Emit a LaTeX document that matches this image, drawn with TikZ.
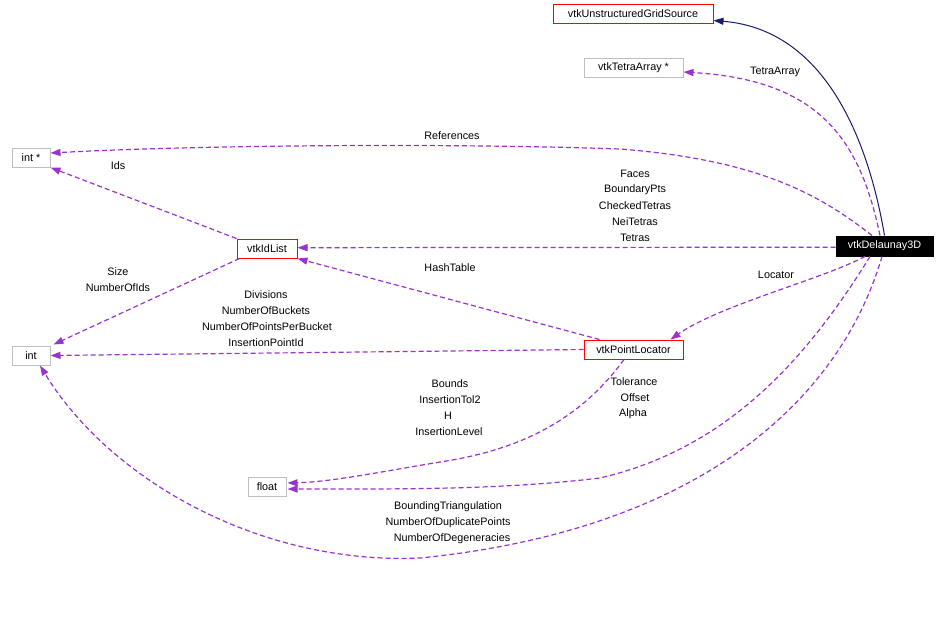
\documentclass[tikz,border=0pt]{standalone}
\usepackage{fontspec}
\setmainfont{Liberation Sans}
\usetikzlibrary{arrows.meta}
\definecolor{edgepurple}{HTML}{9A32CD}
\definecolor{navyedge}{HTML}{191970}
\definecolor{grayborder}{HTML}{BFBFBF}
\begin{document}
\begin{tikzpicture}[x=0.75pt,y=-0.75pt,
  font=\fontsize{8.1}{9.5}\selectfont,
  cls/.style={draw, line width=0.75pt, inner sep=0pt, minimum height=14.25pt, fill=white},
  redbox/.style={cls, draw=red},
  graybox/.style={cls, draw=grayborder},
  focusbox/.style={cls, draw=black, fill=black, text=white, minimum height=15pt},
  member/.style={draw=edgepurple, line width=0.9pt, dash pattern=on 3.75pt off 2.25pt,
    -{Triangle[length=7.5pt,width=5.25pt]}},
  inherit/.style={draw=navyedge, line width=0.75pt, -{Triangle[length=7.5pt,width=5.25pt]}},
  lbl/.style={inner sep=0pt, text=black}
]
\useasboundingbox (0,0) rectangle (946,629);

% nodes
\node[redbox, minimum width=120pt] (ugs) at (633,13.5) {vtkUnstructuredGridSource};
\node[graybox, minimum width=74.25pt] (tet) at (633.5,67.5) {vtkTetraArray *};
\node[graybox, minimum width=28.5pt] (intp) at (31,157.5) {int *};
\node[redbox, minimum width=45pt] (idl) at (267,248.5) {vtkIdList};
\node[focusbox, minimum width=72.75pt] (dl) at (884.5,246) {vtkDelaunay3D};
\node[graybox, minimum width=28.5pt] (int) at (31,355.5) {int};
\node[redbox, minimum width=74.25pt] (pl) at (633.5,349.5) {vtkPointLocator};
\node[graybox, minimum width=28.5pt] (fl) at (267,487) {float};

% inheritance
\draw[inherit] (dl.north) .. controls (870,150) and (830,30) .. ([shift={(0,7)}]ugs.east);

% members
\draw[member] ([shift={(-4.5,0)}]dl.north) .. controls (860,140) and (820,80) .. ([shift={(0,4.5)}]tet.east);
\draw[member] ([shift={(-12.5,0)}]dl.north) .. controls (820,195) and (760,160) .. (620,149)
   .. controls (450,143) and (200,145) .. ([shift={(0,-4.5)}]intp.east);
\draw[member] ([shift={(0,1.2)}]dl.west) -- ([shift={(0,-0.8)}]idl.east);
\draw[member] (idl.north west) -- (intp.south east);
\draw[member] ([shift={(3,0)}]idl.south west) -- ([shift={(3,-1)}]int.north east);
\draw[member] ([shift={(16,0)}]pl.north west) -- (idl.south east);
\draw[member] ([shift={(-19.5,0)}]dl.south) .. controls (820,280) and (720,305) .. ([shift={(-13,0)}]pl.north east);
\draw[member] (pl.west) -- (int.east);
\draw[member] ([shift={(-9.5,0)}]pl.south) .. controls (580,420) and (520,450) .. (440,462)
   .. controls (380,472) and (330,482) .. ([shift={(1,-4)}]fl.east);
\draw[member] ([shift={(-14.5,0)}]dl.south) .. controls (800,370) and (720,450) .. (600,478)
   .. controls (500,490) and (400,489) .. ([shift={(1,2)}]fl.east);
\draw[member] ([shift={(-2.5,0)}]dl.south) .. controls (840,400) and (700,530) .. (420,558)
   .. controls (260,565) and (110,480) .. ([shift={(9,0)}]int.south);

% labels
\node[lbl] (l1) at (775,72) {TetraArray};
\node[lbl] (l2) at (452,136) {References};
\node[lbl] (l3) at (118,166) {Ids};
\node[lbl] (l4) at (635,174) {Faces};
\node[lbl] (l5) at (635,190) {BoundaryPts};
\node[lbl] (l6) at (635,206) {CheckedTetras};
\node[lbl] (l7) at (635,222) {NeiTetras};
\node[lbl] (l8) at (635,238) {Tetras};
\node[lbl] (l9) at (776,275) {Locator};
\node[lbl] (l10) at (118,272) {Size};
\node[lbl] (l11) at (118,288) {NumberOfIds};
\node[lbl] (l12) at (266,295) {Divisions};
\node[lbl] (l13) at (266,311) {NumberOfBuckets};
\node[lbl] (l14) at (267,327) {NumberOfPointsPerBucket};
\node[lbl] (l15) at (266,343) {InsertionPointId};
\node[lbl] (l16) at (450,268) {HashTable};
\node[lbl] (l17) at (634,382) {Tolerance};
\node[lbl] (l18) at (635,398) {Offset};
\node[lbl] (l19) at (633,414) {Alpha};
\node[lbl] (l20) at (450,384) {Bounds};
\node[lbl] (l21) at (450,400) {InsertionTol2};
\node[lbl] (l22) at (448,416) {H};
\node[lbl] (l23) at (449,432) {InsertionLevel};
\node[lbl] (l24) at (448,507) {BoundingTriangulation};
\node[lbl] (l25) at (448,523) {NumberOfDuplicatePoints};
\node[lbl] (l26) at (452,539) {NumberOfDegeneracies};
\end{tikzpicture}
\end{document}
